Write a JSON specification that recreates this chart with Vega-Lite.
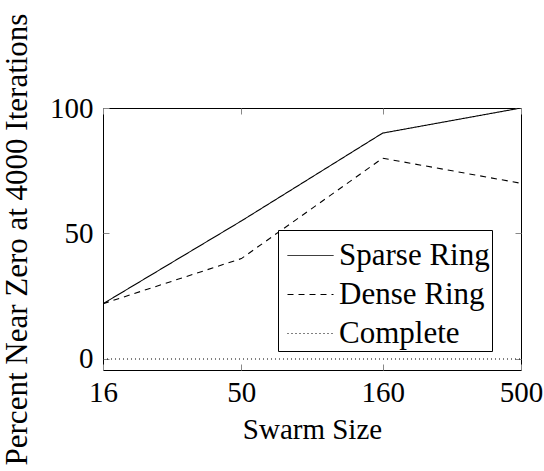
{
  "$schema": "https://vega.github.io/schema/vega-lite/v6.json",
  "width": 418,
  "height": 262,
  "autosize": "none",
  "padding": {"left": 103, "top": 108, "right": 23, "bottom": 101},
  "background": "white",
  "config": {
    "font": "Liberation Serif",
    "view": {"stroke": "black", "strokeWidth": 1},
    "axis": {
      "grid": false,
      "domain": false,
      "tickColor": "#888888",
      "tickSize": -6,
      "labelFont": "Liberation Serif",
      "labelFontSize": 29,
      "labelColor": "black",
      "titleFont": "Liberation Serif",
      "titleFontSize": 29,
      "titleFontWeight": "normal",
      "titleColor": "black"
    },
    "legend": {
      "labelFont": "Liberation Serif",
      "labelFontSize": 31,
      "labelColor": "black"
    }
  },
  "data": {
    "values": [
      {"size": 16, "pct": 22, "series": "Sparse Ring"},
      {"size": 50, "pct": 55, "series": "Sparse Ring"},
      {"size": 160, "pct": 90, "series": "Sparse Ring"},
      {"size": 500, "pct": 100, "series": "Sparse Ring"},
      {"size": 16, "pct": 22, "series": "Dense Ring"},
      {"size": 50, "pct": 40, "series": "Dense Ring"},
      {"size": 160, "pct": 80, "series": "Dense Ring"},
      {"size": 500, "pct": 70, "series": "Dense Ring"},
      {"size": 16, "pct": 0, "series": "Complete"},
      {"size": 50, "pct": 0, "series": "Complete"},
      {"size": 160, "pct": 0, "series": "Complete"},
      {"size": 500, "pct": 0, "series": "Complete"}
    ]
  },
  "layer": [
    {
      "mark": {"type": "line", "color": "black", "strokeWidth": 1.1, "clip": true},
      "encoding": {
        "x": {
          "field": "size", "type": "quantitative",
          "scale": {"type": "log", "domain": [16, 500], "nice": false},
          "axis": {"orient": "bottom", "values": [16, 50, 160, 500], "title": "Swarm Size", "labelFlush": false, "labelPadding": 14, "titlePadding": 8}
        },
        "y": {
          "field": "pct", "type": "quantitative",
          "scale": {"domain": [-4.4, 100], "nice": false, "zero": false},
          "axis": {"orient": "left", "values": [0, 50, 100], "title": "Percent Near Zero at 4000 Iterations", "titleFontSize": 31, "labelPadding": 16, "titlePadding": 16}
        },
        "strokeDash": {
          "field": "series", "type": "nominal",
          "scale": {"domain": ["Sparse Ring", "Dense Ring", "Complete"], "range": [[1, 0], [6, 5], [1, 3]]},
          "legend": {
            "title": null,
            "orient": "none",
            "legendX": 175,
            "legendY": 122,
            "symbolType": "stroke",
            "symbolSize": 2116,
            "symbolOffset": 7,
            "symbolStrokeColor": "black",
            "symbolStrokeWidth": 1,
            "strokeColor": "black",
            "fillColor": "white",
            "padding": 2,
            "rowPadding": -13,
            "labelOffset": 5
          }
        }
      }
    },
    {
      "mark": {"type": "line", "opacity": 0},
      "encoding": {
        "x": {
          "field": "size", "type": "quantitative",
          "axis": {"orient": "top", "values": [16, 50, 160, 500], "labels": false, "title": null}
        },
        "y": {
          "field": "pct", "type": "quantitative",
          "axis": {"orient": "right", "values": [0, 50, 100], "labels": false, "title": null}
        }
      }
    }
  ],
  "resolve": {"axis": {"x": "independent", "y": "independent"}}
}
